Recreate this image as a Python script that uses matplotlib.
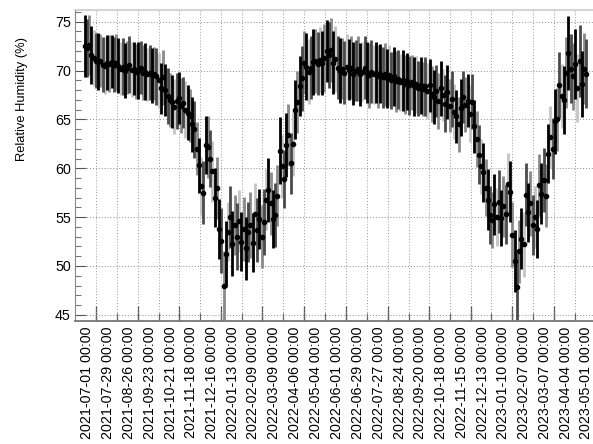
import numpy as np
import matplotlib
matplotlib.use('Agg')
import matplotlib.pyplot as plt
from matplotlib.ticker import MultipleLocator, FixedLocator
import datetime as dt

plt.rcParams['font.family'] = ['Liberation Sans', 'DejaVu Sans']

# Relative humidity (%) sampled every 3 days starting 2021-06-28
humidity = [
    72.5, 72.3, 72.6, 71.6, 71.3, 71.0, 70.9, 71.0, 70.6, 70.5,
    70.8, 70.7, 70.9, 70.6, 70.8, 70.5, 70.2, 70.4, 70.0, 70.3,
    70.6, 70.1, 70.2, 69.9, 70.0, 70.3, 69.8, 69.9, 69.6, 69.8,
    69.5, 69.7, 69.4, 69.0, 68.2, 69.3, 68.0, 67.4, 67.0, 66.8,
    66.3, 66.9, 67.2, 66.4, 66.7, 66.0, 65.7, 65.4, 64.5, 64.0,
    62.0, 60.3, 58.2, 57.5, 62.4, 62.2, 61.0, 59.7, 57.0, 58.0,
    53.8, 52.6, 48.0, 51.2, 53.5, 55.0, 52.3, 54.2, 53.0, 54.6,
    52.5, 53.8, 51.8, 53.5, 54.2, 52.4, 55.3, 53.7, 54.8, 53.0,
    54.5, 56.8, 57.8, 56.4, 54.8, 55.2, 57.2, 61.8, 60.2, 58.9,
    62.4, 63.4, 60.5, 62.5, 66.0, 66.8, 68.4, 69.2, 70.8, 70.4,
    69.9, 70.3, 70.9, 71.0, 70.7, 71.1, 70.8, 71.3, 72.0, 71.6,
    72.1, 70.8, 71.2, 70.3, 70.0, 70.2, 69.8, 70.4, 70.1, 70.3,
    69.7, 70.0, 70.2, 69.6, 69.9, 70.3, 69.8, 69.5, 69.9, 69.6,
    69.8, 69.4, 69.7, 69.3, 69.6, 69.2, 69.5, 69.0, 69.4, 68.9,
    69.1, 68.8, 69.0, 68.6, 68.9, 68.5, 68.8, 68.4, 68.6, 68.2,
    68.5, 68.1, 68.4, 67.9, 68.5, 67.6, 67.3, 67.9, 66.9, 68.2,
    67.5, 66.6, 67.8, 66.4, 67.1, 65.8, 65.3, 64.5, 66.2, 67.3,
    66.5, 66.9, 65.6, 66.8, 64.3, 63.0, 61.4, 60.2, 59.6, 58.0,
    56.8, 55.2, 54.7, 56.3, 55.0, 56.6, 54.9, 56.1, 55.3, 58.4,
    57.6, 53.2, 50.5, 47.9, 51.5, 52.8, 52.2, 57.3, 55.5, 56.4,
    54.2, 55.0, 53.8, 58.3, 57.4, 58.8, 57.2, 61.5, 63.2, 62.0,
    64.8, 65.0, 68.5, 67.4, 67.0, 69.8, 71.8, 70.2, 69.4, 70.7,
    68.2, 71.0, 68.6, 70.2, 69.7,
]

# half-width of the error bars (%)
spread = [
    3.2, 3.0, 3.1, 3.0, 2.9, 2.8, 2.9, 2.7, 2.8, 2.9,
    2.8, 2.9, 2.7, 2.8, 2.9, 2.8, 2.7, 2.9, 2.8, 2.7,
    2.9, 2.8, 2.7, 2.8, 2.9, 2.7, 2.8, 2.9, 2.7, 2.8,
    2.8, 2.7, 2.9, 2.8, 2.6, 2.8, 2.7, 2.9, 2.8, 2.7,
    2.8, 2.9, 2.7, 2.8, 2.6, 2.9, 2.8, 2.7, 2.8, 2.9,
    2.7, 2.8, 3.0, 3.2, 3.0, 3.2, 2.9, 3.1, 3.0, 3.2,
    3.1, 3.3, 3.5, 3.4, 3.0, 3.2, 3.3, 3.1, 3.4, 3.2,
    3.0, 3.3, 3.2, 3.1, 3.4, 3.0, 3.2, 3.3, 3.1, 3.2,
    3.4, 3.1, 3.3, 3.2, 3.0, 3.3, 3.1, 3.4, 3.2, 3.0,
    3.3, 3.2, 3.1, 3.3, 3.0, 3.2, 3.1, 3.3, 3.2, 3.4,
    3.3, 3.2, 3.4, 3.3, 3.2, 3.4, 3.3, 3.5, 3.2, 3.4,
    3.3, 3.2, 3.4, 3.2, 3.3, 3.1, 3.2, 3.3, 3.1, 3.2,
    3.2, 3.1, 3.3, 3.2, 3.0, 3.2, 3.1, 3.3, 3.2, 3.0,
    3.1, 3.2, 3.0, 3.1, 3.2, 3.0, 3.1, 2.9, 3.0, 3.1,
    3.0, 2.9, 3.1, 3.0, 2.9, 3.0, 2.8, 3.0, 2.9, 2.8,
    2.9, 2.8, 3.0, 2.9, 2.7, 2.9, 2.8, 2.7, 2.9, 2.8,
    2.7, 2.9, 2.8, 2.7, 2.9, 2.8, 2.7, 2.8, 2.9, 2.7,
    2.8, 2.7, 2.9, 2.8, 2.7, 2.9, 3.0, 2.8, 3.0, 2.9,
    3.1, 3.0, 2.9, 3.1, 3.0, 3.2, 2.9, 3.1, 3.0, 3.2,
    3.1, 3.3, 3.2, 3.4, 3.2, 3.1, 3.3, 3.2, 3.0, 3.3,
    3.1, 3.2, 3.0, 3.2, 3.1, 3.3, 3.2, 3.0, 3.2, 3.1,
    3.3, 3.2, 3.4, 3.3, 3.5, 3.6, 3.8, 3.5, 3.4, 3.6,
    3.5, 3.7, 3.4, 3.6, 3.5,
]

tick_labels = [
    "2021-07-01 00:00", "2021-07-29 00:00", "2021-08-26 00:00", "2021-09-23 00:00",
    "2021-10-21 00:00", "2021-11-18 00:00", "2021-12-16 00:00", "2022-01-13 00:00",
    "2022-02-09 00:00", "2022-03-09 00:00", "2022-04-06 00:00", "2022-05-04 00:00",
    "2022-06-01 00:00", "2022-06-29 00:00", "2022-07-27 00:00", "2022-08-24 00:00",
    "2022-09-20 00:00", "2022-10-18 00:00", "2022-11-15 00:00", "2022-12-13 00:00",
    "2023-01-10 00:00", "2023-02-07 00:00", "2023-03-07 00:00", "2023-04-04 00:00",
    "2023-05-01 00:00",
]

start = dt.date(2021, 7, 1)
first_sample = dt.date(2021, 6, 28)
step_days = 3

vals = np.array(humidity)
err = np.array(spread)
days = (first_sample - start).days + step_days * np.arange(len(vals))

tick_pos = [(dt.date.fromisoformat(s[:10]) - start).days for s in tick_labels]

W, H = 593, 444
fig = plt.figure(figsize=(W / 100, H / 100), dpi=100)
left, right, top, bottom = 75, 593, 10, 320.7
ax = fig.add_axes([left / W, (H - bottom) / H, (right - left) / W, (bottom - top) / H])

# error bars in several grey shades
shades = ['#000000', '#4a4a4a', '#8a8a8a', '#c4c4c4']
pattern = [0, 1, 2, 0, 3, 1, 0, 2, 1, 3, 0, 2]
shade_idx = np.array([pattern[i % len(pattern)] for i in range(len(vals))])
for s in [3, 2, 1, 0]:
    m = shade_idx == s
    ax.errorbar(days[m], vals[m], yerr=err[m], fmt='none', ecolor=shades[s],
                elinewidth=2.0, capsize=0, zorder=2 + (3 - s) * 0.1)
ax.plot(days, vals, 'o', color='black', ms=3.0, zorder=5)

ax.set_xlim(-16, 678)
ax.set_ylim(44.4, 76.2)

# y axis
ax.yaxis.set_major_locator(MultipleLocator(5))
ax.yaxis.set_minor_locator(MultipleLocator(1))
ax.tick_params(axis='y', which='major', direction='in', length=8, width=0.8,
               color='#555555', labelsize=10.3, pad=3)
ax.tick_params(axis='y', which='minor', direction='in', length=4, width=0.8,
               color='#777777')
ax.set_ylabel('Relative Humidity (%)', fontsize=9.3)
ax.yaxis.set_label_coords(-47 / (right - left), 0.714)

# x axis: labels at sample dates, grid/ticks offset
ax.set_xticks(tick_pos)
ax.set_xticklabels(tick_labels, rotation=90, fontsize=10.3)
ax.tick_params(axis='x', which='major', length=0, pad=4)
grid_pos = [p + 12 for p in tick_pos]
ax.xaxis.set_minor_locator(FixedLocator(grid_pos))
ax.tick_params(axis='x', which='minor', direction='in', length=6, width=0.9,
               color='#666666')
sec = ax.secondary_xaxis('bottom')
sec.set_xticks(grid_pos[::2])
sec.set_xticklabels([])
sec.tick_params(direction='in', length=11, width=0.9, color='#444444')
sec.spines['bottom'].set_visible(False)

ax.grid(axis='y', which='major', linestyle=(0, (1, 2)), color='#8a8a8a', lw=0.7)
ax.grid(axis='x', which='minor', linestyle=(0, (1, 2)), color='#9a9a9a', lw=0.7)
ax.set_axisbelow(True)

ax.spines['left'].set_color('#888888')
ax.spines['bottom'].set_color('#777777')
ax.spines['bottom'].set_linewidth(1.3)
ax.spines['top'].set_color('#cccccc')
ax.spines['top'].set_linewidth(1.2)
ax.spines['right'].set_visible(False)

fig.savefig('out.png', dpi=100)
